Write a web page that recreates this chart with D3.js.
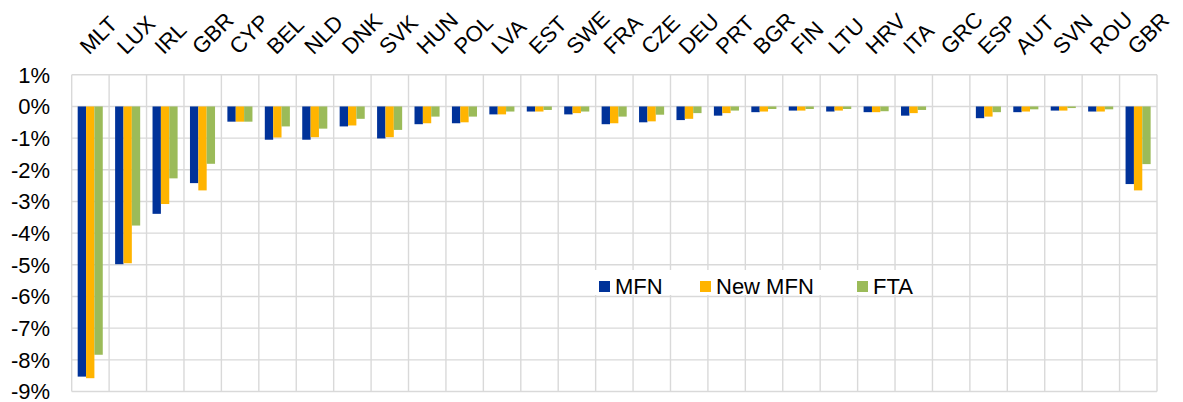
<!DOCTYPE html>
<html>
<head>
<meta charset="utf-8">
<script src="https://cdn.jsdelivr.net/npm/d3@7"></script>
<style>
  html, body { margin: 0; padding: 0; background: #fff; }
  svg { display: block; }
  text { font-family: Arial, "Liberation Sans", sans-serif; fill: #000; }
</style>
</head>
<body>
<svg id="chart" width="1183" height="402"></svg>
<script>
const categories = ["MLT","LUX","IRL","GBR","CYP","BEL","NLD","DNK","SVK","HUN","POL","LVA","EST","SWE","FRA","CZE","DEU","PRT","BGR","FIN","LTU","HRV","ITA","GRC","ESP","AUT","SVN","ROU","GBR "];
const seriesNames = ["MFN","New MFN","FTA"];
const mfn    = [-8.53,-4.98,-3.39,-2.42,-0.48,-1.05,-1.05,-0.63,-1.01,-0.56,-0.53,-0.25,-0.16,-0.25,-0.56,-0.50,-0.43,-0.29,-0.18,-0.13,-0.16,-0.18,-0.29,0,-0.37,-0.18,-0.13,-0.16,-2.45];
const newMfn = [-8.58,-4.95,-3.08,-2.65,-0.48,-0.98,-0.97,-0.60,-0.97,-0.53,-0.50,-0.25,-0.16,-0.21,-0.53,-0.47,-0.39,-0.21,-0.16,-0.13,-0.13,-0.18,-0.21,0,-0.32,-0.16,-0.13,-0.16,-2.65];
const fta    = [-7.84,-3.76,-2.27,-1.81,-0.48,-0.63,-0.70,-0.39,-0.74,-0.32,-0.32,-0.16,-0.11,-0.16,-0.32,-0.26,-0.21,-0.13,-0.08,-0.08,-0.08,-0.15,-0.11,0,-0.18,-0.09,-0.05,-0.09,-1.82];
const yTicks = [1,0,-1,-2,-3,-4,-5,-6,-7,-8,-9];
const colors = ["#003299","#FFB400","#9BBB59"];

const seriesValues = [mfn, newMfn, fta];
const svg = d3.select("#chart");
const plot = {left: 71.7, right: 1157, top: 74.8, bottom: 391.5};

const x0 = d3.scaleBand().domain(d3.range(categories.length)).range([plot.left, plot.right]).paddingInner(0).paddingOuter(0);
const bw = x0.bandwidth();
const x1 = d3.scaleBand().domain(seriesNames).range([bw*0.16, bw*0.83]).padding(0);
const y = d3.scaleLinear().domain([-9, 1]).range([plot.bottom, plot.top]);

const grid = svg.append("g").attr("stroke", "#d9d9d9").attr("stroke-width", 1.4).attr("fill", "none");
grid.selectAll("line.h").data(yTicks).join("line")
  .attr("x1", plot.left).attr("x2", plot.right)
  .attr("y1", d => y(d)).attr("y2", d => y(d));
grid.selectAll("line.v").data(d3.range(categories.length + 1)).join("line")
  .attr("x1", i => plot.left + i*bw).attr("x2", i => plot.left + i*bw)
  .attr("y1", plot.top).attr("y2", plot.bottom);

// bars
const groups = svg.append("g").selectAll("g").data(categories).join("g")
  .attr("transform", (d, i) => `translate(${x0(i)},0)`);
groups.selectAll("rect").data((d, i) => seriesNames.map((s, k) => ({s, k, v: seriesValues[k][i]})))
  .join("rect")
  .attr("x", d => x1(d.s))
  .attr("width", x1.bandwidth())
  .attr("y", d => Math.min(y(0), y(d.v)))
  .attr("height", d => Math.abs(y(d.v) - y(0)))
  .attr("fill", d => colors[d.k]);

// y axis labels
svg.append("g").selectAll("text").data(yTicks).join("text")
  .attr("x", 50).attr("y", d => y(d)).attr("dy", "0.36em")
  .attr("text-anchor", "end").attr("font-size", 22)
  .text(d => d + "%");

// category labels
svg.append("g").selectAll("text").data(categories).join("text")
  .attr("transform", (d, i) => `translate(${x0(i) + bw/2 - 1.5},55.5) rotate(-45)`)
  .attr("text-anchor", "start").attr("font-size", 22)
  .text(d => d.trim());

// legend
const lg = svg.append("g");
lg.append("rect").attr("x", 591).attr("y", 270).attr("width", 334).attr("height", 25).attr("fill", "#fff");
const legendX = [599, 700, 857];
seriesNames.forEach((s, k) => {
  lg.append("rect").attr("x", legendX[k]).attr("y", 281).attr("width", 11).attr("height", 11).attr("fill", colors[k]);
  lg.append("text").attr("x", legendX[k] + 16).attr("y", 293.5).attr("font-size", 22).text(s);
});
</script>
</body>
</html>
